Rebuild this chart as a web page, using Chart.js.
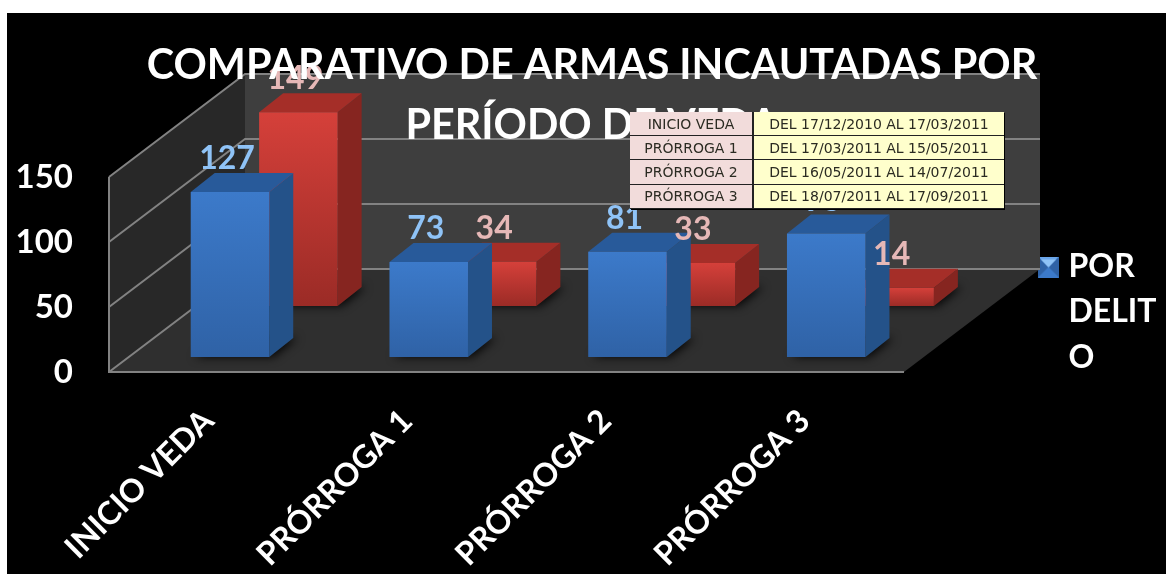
<!DOCTYPE html>
<html lang="es">
<head>
    <meta charset="UTF-8">
    <title>Comparativo de armas incautadas</title>
    <script src="https://cdnjs.cloudflare.com/ajax/libs/Chart.js/4.4.1/chart.umd.min.js"></script>
    <style>
        html, body { margin: 0; padding: 0; background: #fff; overflow: hidden; }
        #box { position: absolute; left: 7px; top: 13px; width: 1159px; height: 561px; background: #000; }
        #periods {
            position: absolute; left: 623px; top: 99px; width: 374px; height: 97px;
            border-collapse: collapse; table-layout: fixed;
            font: 14px "DejaVu Sans", sans-serif; color: #2b2b22;
            box-shadow: 1px 1px 0 #000;
        }
        #periods td { padding: 0; text-align: center; border-bottom: 1px solid #222; height: 23px; }
        #periods td:first-child { width: 122px; background: #f2dcdb; border-right: 2px solid #222; }
        #periods td:last-child { background: #ffffcc; }
    </style>
</head>
<body>
<div id="box">
    <canvas id="chart" width="1159" height="561"></canvas>
    <table id="periods"></table>
</div>
<script>
const categories = ['INICIO VEDA', 'PRÓRROGA 1', 'PRÓRROGA 2', 'PRÓRROGA 3'];
const seriesName = ['POR', 'DELIT', 'O'];
const blueValues = [127, 73, 81, 95];
const redValues = [149, 34, 33, 14];
const yTicks = [0, 50, 100, 150];
const titleLines = ['COMPARATIVO DE ARMAS INCAUTADAS POR', 'PERÍODO DE VEDA'];
const periodNames = ['INICIO VEDA', 'PRÓRROGA 1', 'PRÓRROGA 2', 'PRÓRROGA 3'];
const periodDates = [
    'DEL 17/12/2010 AL 17/03/2011',
    'DEL 17/03/2011 AL 15/05/2011',
    'DEL 16/05/2011 AL 14/07/2011',
    'DEL 18/07/2011 AL 17/09/2011'
];

document.getElementById('periods').innerHTML = periodNames
    .map((n, i) => `<tr><td>${n}</td><td>${periodDates[i]}</td></tr>`).join('');

// how far the box goes back, and where each row of bars sits in it
const wallDepth = { x: 136, y: -103 };
const barDepth = { x: 24, y: -19 };
const rowShift = [{ x: 21.6, y: -15 }, { x: 90, y: -66 }];
const faceColors = [
    { top: '#285a9a', side: '#245289', label: '#8fc3f7', from: '#3c7aca', to: '#2f62a6' },
    { top: '#a52e28', side: '#862520', label: '#e6b8b7', from: '#d5403a', to: '#9b2b26' }
];

function poly(ctx, pts, fill) {
    ctx.beginPath();
    pts.forEach((p, i) => i ? ctx.lineTo(p[0], p[1]) : ctx.moveTo(p[0], p[1]));
    ctx.closePath();
    ctx.fillStyle = fill;
    ctx.fill();
}

function barGradient(c, idx) {
    const chart = c.chart;
    if (!chart.chartArea || c.raw === undefined) return faceColors[idx].from;
    const y = chart.scales.y;
    const g = chart.ctx.createLinearGradient(0, y.getPixelForValue(c.raw), 0, y.getPixelForValue(0));
    g.addColorStop(0, faceColors[idx].from);
    g.addColorStop(1, faceColors[idx].to);
    return g;
}

// small bevelled square for the legend
const legendMark = document.createElement('canvas');
legendMark.width = legendMark.height = 21;
(function () {
    const m = legendMark.getContext('2d');
    m.fillStyle = '#2f62a6';
    m.fillRect(0, 0, 21, 21);
    poly(m, [[0, 0], [21, 0], [10.5, 10.5]], '#6aa6ea');
    poly(m, [[3, 3], [18, 3], [10.5, 11]], '#8fc3f7');
    poly(m, [[0, 21], [21, 21], [10.5, 10.5]], '#3c7aca');
})();

const box3d = {
    id: 'box3d',
    beforeLayout(chart) {
        // title goes over the bars and their labels
        if (chart.titleBlock) {
            chart.titleBlock._layers = () => [{ z: 5, draw: () => chart.titleBlock.draw() }];
        }
    },
    afterLayout(chart) {
        const l = chart.legend;
        const w = l.width, h = l.height;
        l.left = 1027.5; l.right = l.left + w;
        l.top = 228; l.bottom = l.top + h;
        // centre the title on the whole box, not just the front face
        chart.titleBlock.left = 0;
        chart.titleBlock.right = 1170;
    },
    beforeDatasetsDraw(chart) {
        const { ctx, scales: { x, y } } = chart;
        const l = x.left, r = x.right, b = y.getPixelForValue(0), t = y.getPixelForValue(150);
        const d = wallDepth;
        ctx.save();
        poly(ctx, [[l + d.x, t + d.y], [r + d.x, t + d.y], [r + d.x, b + d.y], [l + d.x, b + d.y]], '#3e3e3e');
        poly(ctx, [[l, t], [l + d.x, t + d.y], [l + d.x, b + d.y], [l, b]], '#282828');
        poly(ctx, [[l, b], [l + d.x, b + d.y], [r + d.x, b + d.y], [r, b]], '#2f2f2f');
        ctx.strokeStyle = '#828282';
        ctx.lineWidth = 2;
        yTicks.forEach(v => {
            const p = y.getPixelForValue(v);
            ctx.beginPath();
            ctx.moveTo(l, p);
            ctx.lineTo(l + d.x, p + d.y);
            ctx.lineTo(r + d.x, p + d.y);
            ctx.stroke();
        });
        ctx.beginPath();
        ctx.moveTo(l, t);
        ctx.lineTo(l, b);
        ctx.lineTo(r, b);
        ctx.stroke();
        ctx.restore();
    },
    beforeDatasetDraw(chart, args) {
        const { ctx } = chart;
        const s = rowShift[args.index], c = faceColors[args.index], d = barDepth;
        ctx.save();
        ctx.translate(s.x, s.y);
        args.meta.data.forEach(bar => {
            const p = bar.getProps(['x', 'y', 'base', 'width'], true);
            const l = p.x - p.width / 2, r = p.x + p.width / 2;
            // soft shadow on the floor
            ctx.save();
            ctx.shadowColor = 'rgba(0,0,0,0.9)';
            ctx.shadowBlur = 10;
            ctx.shadowOffsetX = 4;
            poly(ctx, [[l, p.base], [r, p.base], [r + d.x, p.base + d.y], [l + d.x, p.base + d.y]], '#222');
            ctx.restore();
            poly(ctx, [[r, p.y], [r + d.x, p.y + d.y], [r + d.x, p.base + d.y], [r, p.base]], c.side);
            poly(ctx, [[l, p.y], [l + d.x, p.y + d.y], [r + d.x, p.y + d.y], [r, p.y]], c.top);
        });
    },
    afterDatasetDraw(chart) {
        chart.ctx.restore();
    },
    afterDatasetsDraw(chart) {
        const { ctx } = chart;
        ctx.save();
        ctx.font = 'bold 32px Lato, sans-serif';
        ctx.textAlign = 'center';
        ctx.textBaseline = 'alphabetic';
        [1, 0].forEach(i => {
            const s = rowShift[i];
            chart.getDatasetMeta(i).data.forEach((bar, j) => {
                ctx.fillStyle = faceColors[i].label;
                ctx.fillText(chart.data.datasets[i].data[j], bar.x + s.x - 3, bar.y + s.y + barDepth.y - 4);
            });
        });
        ctx.restore();
    }
};

new Chart(document.getElementById('chart'), {
    type: 'bar',
    data: {
        labels: categories,
        datasets: [
            { label: seriesName.join(''), data: blueValues, grouped: false, clip: false,
              categoryPercentage: 1, barPercentage: 0.395, backgroundColor: c => barGradient(c, 0) },
            { label: '', data: redValues, grouped: false, clip: false,
              categoryPercentage: 1, barPercentage: 0.395, backgroundColor: c => barGradient(c, 1) }
        ]
    },
    options: {
        responsive: false,
        animation: false,
        layout: { padding: { top: 0, left: 0, bottom: 0, right: 262 } },
        scales: {
            x: {
                grid: { display: false },
                border: { display: false },
                ticks: {
                    color: '#fff',
                    minRotation: 45, maxRotation: 45,
                    padding: 22,
                    font: { family: 'Lato', weight: 'bold', size: 32 }
                },
                afterFit(s) { s.height = 202; }
            },
            y: {
                min: 0, max: 150,
                grid: { display: false },
                border: { display: false },
                afterBuildTicks(s) { s.ticks = yTicks.map(v => ({ value: v })); },
                ticks: {
                    color: '#fff',
                    padding: 28,
                    font: { family: 'Lato', weight: 'bold', size: 33 }
                },
                afterFit(s) { s.width = 102; }
            }
        },
        plugins: {
            title: {
                display: true,
                text: titleLines,
                color: '#fff',
                font: { family: 'Lato', weight: 'bold', size: 41.3, lineHeight: 1.44 },
                padding: { top: 23, bottom: 22.1 }
            },
            legend: {
                position: 'chartArea',
                align: 'start',
                labels: {
                    color: '#fff',
                    usePointStyle: true,
                    pointStyleWidth: 8,
                    font: { family: 'Lato', weight: 'bold', size: 32, lineHeight: 1.41 },
                    generateLabels: () => [{ text: seriesName, datasetIndex: 0, pointStyle: legendMark,
                        fontColor: '#fff', lineWidth: 0 }]
                }
            },
            tooltip: { enabled: false }
        }
    },
    plugins: [box3d]
});
</script>
</body>
</html>
